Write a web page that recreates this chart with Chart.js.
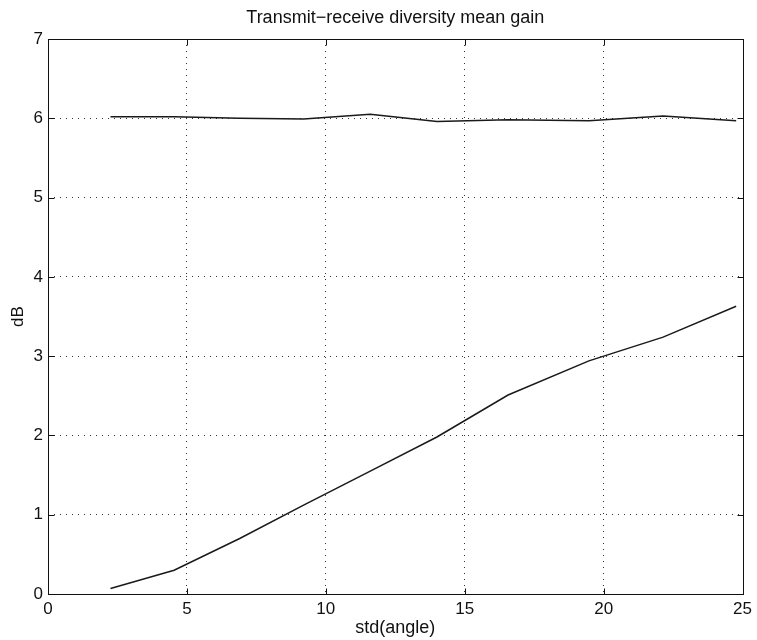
<!DOCTYPE html>
<html>
<head>
<meta charset="utf-8">
<script src="https://cdn.jsdelivr.net/npm/chart.js@4.4.0/dist/chart.umd.min.js"></script>
<style>
  html, body { margin: 0; padding: 0; background: #fff; }
  #wrap { width: 757px; height: 640px; }
</style>
</head>
<body>
<div id="wrap"><canvas id="gainChart" width="757" height="640"></canvas></div>
<script>
// std(angle) values where the gain was evaluated
const stdAngle = [2.25, 4.54, 6.9, 9.2, 11.6, 14.0, 16.56, 19.47, 22.14, 24.77];

// mean gain (dB) for the two curves
const upperGain = [6.02, 6.02, 6.00, 5.99, 6.05, 5.96, 5.98, 5.97, 6.03, 5.97];
const lowerGain = [0.07, 0.30, 0.70, 1.12, 1.55, 1.98, 2.51, 2.94, 3.24, 3.63];

const xTicks = [0, 5, 10, 15, 20, 25];
const yTicks = [0, 1, 2, 3, 4, 5, 6, 7];

const FONT = "'Liberation Sans', Arial, Helvetica, sans-serif";

function toPoints(ys) {
    return stdAngle.map((x, i) => ({ x: x, y: ys[i] }));
}

// no dotted grid on the edges, the frame covers those
function gridColor(lo, hi) {
    return c => (c.tick && (c.tick.value === lo || c.tick.value === hi)) ? "rgba(0,0,0,0)" : "#333";
}

// box round the plot plus small inward ticks, matlab style
const frameBox = {
    id: "frameBox",
    afterDraw(chart) {
        const { ctx, chartArea: a, scales } = chart;
        const L = Math.round(a.left) + 0.5, R = Math.round(a.right) + 0.5;
        const T = Math.round(a.top) + 0.5, B = Math.round(a.bottom) + 0.5;
        ctx.save();
        ctx.strokeStyle = "#111";
        ctx.lineWidth = 1;
        ctx.setLineDash([]);
        ctx.strokeRect(L, T, R - L, B - T);

        const len = 6;
        ctx.beginPath();
        xTicks.forEach(v => {
            const px = Math.round(scales.x.getPixelForValue(v)) + 0.5;
            ctx.moveTo(px, B);
            ctx.lineTo(px, B - len);
            ctx.moveTo(px, T);
            ctx.lineTo(px, T + len);
        });
        yTicks.forEach(v => {
            const py = Math.round(scales.y.getPixelForValue(v)) + 0.5;
            ctx.moveTo(L, py);
            ctx.lineTo(L + len, py);
            ctx.moveTo(R, py);
            ctx.lineTo(R - len, py);
        });
        ctx.stroke();
        ctx.restore();
    }
};

const ctx = document.getElementById("gainChart").getContext("2d");

new Chart(ctx, {
    type: "line",
    data: {
        datasets: [
            {
                label: "upper",
                data: toPoints(upperGain),
                borderColor: "#1a1a1a",
                borderWidth: 1.5,
                pointRadius: 0,
                tension: 0
            },
            {
                label: "lower",
                data: toPoints(lowerGain),
                borderColor: "#1a1a1a",
                borderWidth: 1.5,
                pointRadius: 0,
                tension: 0
            }
        ]
    },
    options: {
        responsive: false,
        animation: false,
        layout: { padding: { left: 0, right: 10, top: 0, bottom: 0 } },
        plugins: {
            legend: { display: false },
            tooltip: { enabled: false },
            title: {
                display: true,
                text: "Transmit\u2212receive diversity mean gain",
                fullSize: false,
                color: "#111",
                font: { family: FONT, size: 18, weight: "normal" },
                padding: { top: 7, bottom: 10.4 }
            }
        },
        scales: {
            x: {
                type: "linear",
                min: 0,
                max: 25,
                afterBuildTicks: s => { s.ticks = xTicks.map(v => ({ value: v })); },
                afterFit: s => { s.height = 46; },
                grid: { color: gridColor(0, 25), lineWidth: 1, drawTicks: false },
                border: { display: false, dash: [1, 5] },
                ticks: { color: "#111", padding: 5, font: { family: FONT, size: 17 } },
                title: {
                    display: true,
                    text: "std(angle)",
                    color: "#111",
                    font: { family: FONT, size: 18 },
                    padding: { top: 0, bottom: 1 }
                }
            },
            y: {
                min: 0,
                max: 7,
                afterBuildTicks: s => { s.ticks = yTicks.map(v => ({ value: v })); },
                afterFit: s => { s.width = 48; },
                grid: { color: gridColor(0, 7), lineWidth: 1, drawTicks: false },
                border: { display: false, dash: [1, 5] },
                ticks: { color: "#111", padding: 5, font: { family: FONT, size: 17 } },
                title: {
                    display: true,
                    text: "dB",
                    color: "#111",
                    font: { family: FONT, size: 17 },
                    padding: { top: 8, bottom: 0 }
                }
            }
        }
    },
    plugins: [frameBox]
});
</script>
</body>
</html>
